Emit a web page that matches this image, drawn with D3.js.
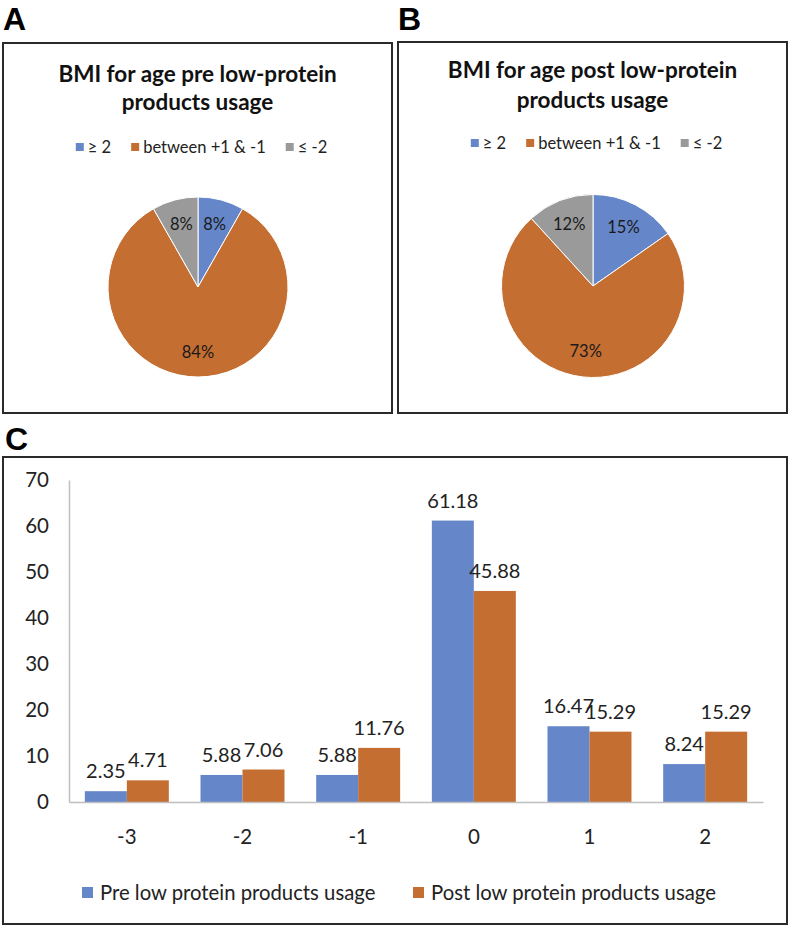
<!DOCTYPE html>
<html>
<head>
<meta charset="utf-8">
<script src="https://cdn.jsdelivr.net/npm/d3@7/dist/d3.min.js"></script>
<style>
  html, body { margin: 0; padding: 0; background: #fff; }
  svg { display: block; }
</style>
</head>
<body>
<svg id="chart" width="790" height="928"></svg>
<script>
// ---------- DATA ----------
const pieCategories = ["≥ 2", "between +1 & -1", "≤ -2"];
const piePreValues = [8.24, 83.53, 8.23];
const piePostValues = [15.29, 72.94, 11.77];
const pieTitlePre = ["BMI for age pre low-protein", "products usage"];
const pieTitlePost = ["BMI for age post low-protein", "products usage"];

const barCategories = ["-3", "-2", "-1", "0", "1", "2"];
const preValues = [2.35, 5.88, 5.88, 61.18, 16.47, 8.24];
const postValues = [4.71, 7.06, 11.76, 45.88, 15.29, 15.29];
const seriesNames = ["Pre low protein products usage", "Post low protein products usage"];
const yTicks = [0, 10, 20, 30, 40, 50, 60, 70];
const panelLetters = ["A", "B", "C"];

// ---------- STYLE ----------
const colors = ["#6586c8", "#c46e31", "#9a9a9a"];
const FONT = "Lato, 'Open Sans', sans-serif";
const textColor = "#222";

const svg = d3.select("#chart");
svg.append("rect").attr("width", 790).attr("height", 928).attr("fill", "#fff");

// panel letters
const letterPos = [[3, 30], [398, 30], [5, 450]];
panelLetters.forEach((l, i) => {
  svg.append("text").attr("x", letterPos[i][0]).attr("y", letterPos[i][1])
    .attr("font-family", "'Liberation Sans', Arial, sans-serif")
    .attr("font-weight", "bold").attr("font-size", 32).attr("fill", "#000").text(l);
});

// ---------- PIE PANELS ----------
function piePanel(cfg) {
  const g = svg.append("g");
  g.append("rect").attr("x", cfg.box[0]).attr("y", cfg.box[1])
    .attr("width", cfg.box[2] - cfg.box[0]).attr("height", cfg.box[3] - cfg.box[1])
    .attr("fill", "none").attr("stroke", "#2a2a2a").attr("stroke-width", 2);
  const cx = (cfg.box[0] + cfg.box[2]) / 2;

  cfg.title.forEach((t, i) => {
    g.append("text").attr("x", cx).attr("y", cfg.titleY[i])
      .attr("text-anchor", "middle").attr("font-family", FONT).attr("font-weight", "bold")
      .attr("font-size", 22.5).attr("fill", "#111").text(t);
  });

  // legend
  const lg = g.append("g");
  let x = 0;
  pieCategories.forEach((c, i) => {
    const it = lg.append("g").attr("transform", `translate(${x},0)`);
    it.append("rect").attr("x", 0).attr("y", -4).attr("width", 8).attr("height", 8).attr("fill", colors[i]);
    const tx = it.append("text").attr("x", 12).attr("y", 0).attr("dy", "0.35em")
      .attr("font-family", FONT).attr("font-size", 16.5).attr("fill", textColor).text(c);
    x += 12 + tx.node().getComputedTextLength() + 20;
  });
  const lw = x - 20;
  lg.attr("transform", `translate(${cx + 4 - lw / 2},${cfg.legendY})`);

  // pie
  const pie = d3.pie().sort(null).value(d => d)(cfg.values);
  const arc = d3.arc().innerRadius(0).outerRadius(cfg.r);
  const labelArc = d3.arc().innerRadius(cfg.r * 0.72).outerRadius(cfg.r * 0.72);
  const total = d3.sum(cfg.values);
  const pg = g.append("g").attr("transform", `translate(${cfg.center[0]},${cfg.center[1]})`);
  pg.selectAll("path").data(pie).join("path")
    .attr("d", arc).attr("fill", (d, i) => colors[i])
    .attr("stroke", "#fff").attr("stroke-width", 1);
  pg.selectAll("text").data(pie).join("text")
    .attr("transform", d => `translate(${labelArc.centroid(d)})`)
    .attr("text-anchor", "middle").attr("dy", "0.35em")
    .attr("font-family", FONT).attr("font-size", 16.5).attr("fill", "#1a1a1a")
    .text(d => Math.round(d.value / total * 100) + "%");
}

piePanel({ box: [3, 43, 392, 413], title: pieTitlePre, titleY: [82, 110], legendY: 147,
  values: piePreValues, center: [198, 287], r: 90 });
piePanel({ box: [398, 42, 787, 413], title: pieTitlePost, titleY: [78, 108], legendY: 143,
  values: piePostValues, center: [593, 286], r: 91.5 });

// ---------- BAR PANEL ----------
const cBox = [3, 457, 787, 924];
svg.append("rect").attr("x", cBox[0]).attr("y", cBox[1])
  .attr("width", cBox[2] - cBox[0]).attr("height", cBox[3] - cBox[1])
  .attr("fill", "none").attr("stroke", "#2a2a2a").attr("stroke-width", 2);

const x0 = d3.scaleBand().domain(barCategories).range([69, 763]).paddingInner(0.274).paddingOuter(0.137);
const x1 = d3.scaleBand().domain([0, 1]).range([0, x0.bandwidth()]);
const y = d3.scaleLinear().domain([0, 70]).range([802, 480]);

const bg = svg.append("g");
const seriesVals = [preValues, postValues];
const groups = bg.selectAll("g.cat").data(barCategories).join("g")
  .attr("class", "cat").attr("transform", d => `translate(${x0(d)},0)`);

groups.selectAll("rect").data((d, ci) => seriesVals.map((s, si) => ({ si, v: s[ci] })))
  .join("rect")
  .attr("x", d => x1(d.si)).attr("width", x1.bandwidth())
  .attr("y", d => y(d.v)).attr("height", d => y(0) - y(d.v))
  .attr("fill", d => colors[d.si]);

groups.selectAll("text.val").data((d, ci) => seriesVals.map((s, si) => ({ si, v: s[ci] })))
  .join("text").attr("class", "val")
  .attr("x", d => x1(d.si) + x1.bandwidth() / 2).attr("y", d => y(d.v) - 13)
  .attr("text-anchor", "middle").attr("font-family", FONT).attr("font-size", 20)
  .attr("fill", textColor).text(d => d.v.toFixed(2));

// axes
const yAxis = d3.axisLeft(y).tickValues(yTicks).tickSize(0).tickPadding(20);
const yg = svg.append("g").attr("transform", "translate(69,0)").call(yAxis);
yg.select(".domain").attr("stroke", "#bfbfbf").attr("stroke-width", 1.5);
yg.selectAll("text").attr("font-family", FONT).attr("font-size", 20.5).attr("fill", textColor);

const xAxis = d3.axisBottom(x0).tickSize(0).tickPadding(27);
const xg = svg.append("g").attr("transform", `translate(0,${y(0)})`).call(xAxis);
xg.select(".domain").attr("stroke", "#bfbfbf").attr("stroke-width", 1.5);
xg.selectAll("text").attr("font-family", FONT).attr("font-size", 20.5).attr("fill", textColor);

// legend
const legX = [82, 413];
seriesNames.forEach((n, i) => {
  svg.append("rect").attr("x", legX[i]).attr("y", 887).attr("width", 11).attr("height", 11).attr("fill", colors[i]);
  svg.append("text").attr("x", legX[i] + 18).attr("y", 893).attr("dy", "0.35em")
    .attr("font-family", FONT).attr("font-size", 20.3).attr("fill", textColor).text(n);
});
</script>
</body>
</html>
